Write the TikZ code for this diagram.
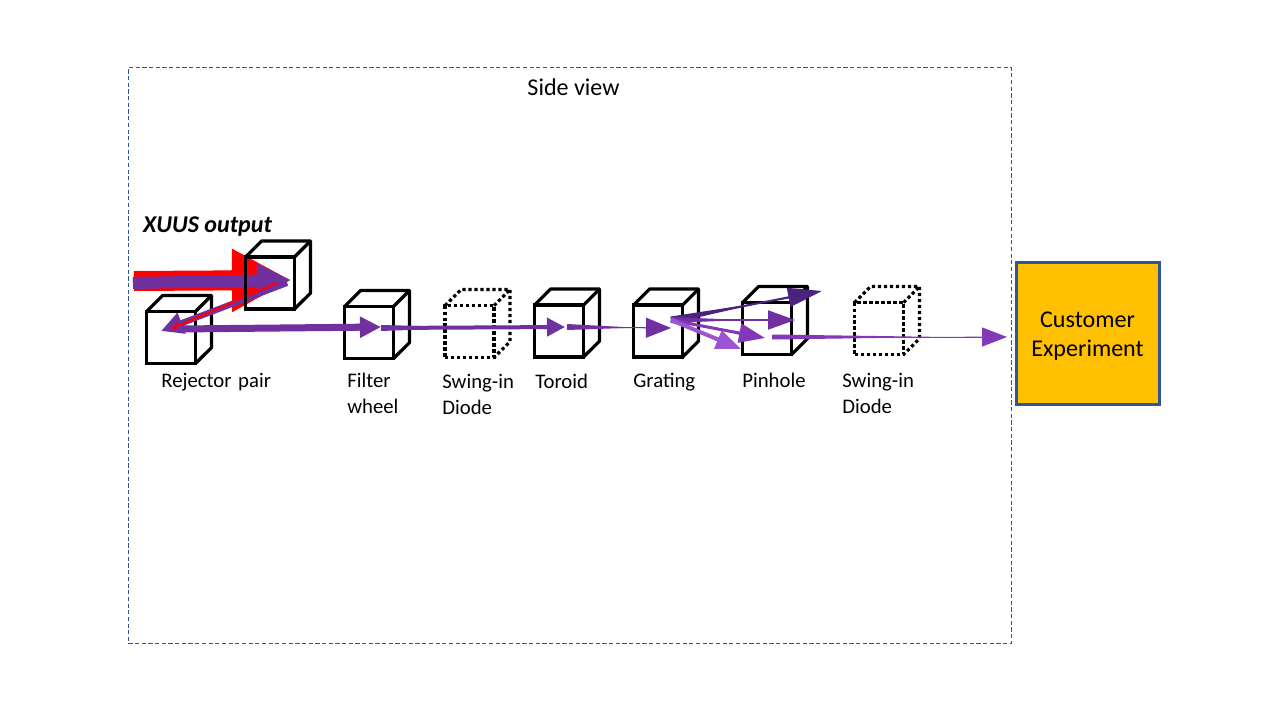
\documentclass[tikz,border=0pt]{standalone}
\usepackage{fontspec}
\setmainfont{Carlito}
\usetikzlibrary{arrows.meta,calc}
\definecolor{beamred}{RGB}{255,0,0}
\definecolor{beampurple}{RGB}{112,48,160}
\definecolor{beamdark}{RGB}{75,34,125}
\definecolor{beammid}{RGB}{131,56,184}
\definecolor{beamlight}{RGB}{155,85,211}
\definecolor{frameblue}{RGB}{47,85,151}
\definecolor{expyellow}{RGB}{255,192,0}
% cube: name, centre of front face, line style
\newcommand{\optic}[3]{
  \node[cubeface,#3] (#1) at (#2) {};
  \draw[cubeline,#3] (#1.north west) -- ++(16,-16) -- ++(49,0) -- ++(0,52) -- (#1.south east);
  \draw[cubeline,#3] (#1.north east) -- ++(16,-16);
}
% beam: from, to, colour, tail width, neck width, head length, head width (px)
\newcommand{\beam}[7]{
  \fill[#3] ($(#1)!#4*0.01cm!90:(#2)$) -- ($(#1)!#4*0.01cm!-90:(#2)$)
    -- ($(#2)!#6*0.02cm!(#1)!#5*0.01cm!90:(#2)$) -- ($(#2)!#6*0.02cm!(#1)!#5*0.01cm!-90:(#2)$) -- cycle;
  \draw[#3,line width=#5*0.02cm,-{Triangle[length=#6*0.02cm,width=#7*0.02cm]}] (#1) -- (#2);
}
\begin{document}
\begin{tikzpicture}[x=0.02cm,y=-0.02cm,
  cubeface/.style={rectangle,draw=black,line width=3.2*0.02cm,inner sep=0pt,outer sep=0pt,
    minimum width=0.98cm,minimum height=1.04cm},
  cubeline/.style={draw=black,line width=3.2*0.02cm,line join=round},
  swingin/.style={dash pattern=on 0.065cm off 0.055cm},
  lbl/.style={anchor=north west,align=left,inner sep=0pt,
    font=\fontsize{11.8}{14.8}\selectfont},
  big/.style={font=\fontsize{13.7}{16.6}\selectfont}
]
\useasboundingbox (0,0) rectangle (1280,720);
\node[draw=frameblue,line width=0.4pt,dash pattern=on 2.4pt off 1.4pt,rectangle,inner sep=0pt,
  minimum width=17.66cm,minimum height=11.52cm] (sideview) at (569.8,355.5) {};
\node[big] (viewlabel) at (573.5,87) {Side view};
\node[font=\fontsize{13.7}{16.6}\selectfont\bfseries\itshape] (xuus) at (207.5,226.5) {XUUS output};

\coordinate (redin) at (134,281);
\coordinate (bluein) at (133,283);
\coordinate (hit) at (291,280);
\coordinate (backred) at (277,283);
\coordinate (backpurple) at (287,283);
\coordinate (spotred) at (171,329);
\coordinate (spot) at (161,331);
\coordinate (spotout) at (178,329);
\coordinate (filterin) at (381,327);
\coordinate (filterout) at (381,328);
\coordinate (toroidin) at (565,327);
\coordinate (toroidout) at (567,327);
\coordinate (gratingin) at (671,328);
\coordinate (fan) at (671,320);
\coordinate (fandark) at (822,291);
\coordinate (fanmid) at (795,320);
\coordinate (fanlight) at (765,338);
\coordinate (fanlightest) at (741,349);
\coordinate (exitout) at (772,337);
\coordinate (exitin) at (1007,337);

\beam{redin}{hit}{beamred}{20}{20}{59}{59}
\beam{bluein}{hit}{beampurple}{12}{12}{34}{32}
\optic{rejectora}{171,337.5}{}
\optic{filter}{369,332.5}{}
\optic{diodea}{469.5,331.5}{swingin}
\optic{toroid}{559,331}{}
\optic{grating}{658,331}{}
\optic{pinhole}{767,328.5}{}
\optic{diodeb}{879,328.5}{swingin}

\beam{backpurple}{spot}{beampurple}{4}{6}{22}{21}
\beam{backred}{spotred}{beamred}{2}{2}{9}{8}
\optic{rejectorb}{270,283}{}
\beam{spotout}{filterin}{beampurple}{7}{7}{21}{20}
\beam{filterout}{toroidin}{beampurple}{6}{4}{18}{18}
\beam{toroidout}{gratingin}{beampurple}{6}{1}{25}{20}
\beam{fan}{fandark}{beamdark}{7}{2}{34}{19}
\beam{fan}{fanmid}{beampurple}{6}{2}{27}{19}
\beam{fan}{fanlight}{beammid}{5}{3}{26}{19}
\beam{fan}{fanlightest}{beamlight}{5}{4}{25}{19}
\beam{exitout}{exitin}{beammid}{5}{1}{25}{19}

\node[rectangle,draw=frameblue,fill=expyellow,line width=3*0.02cm,
  minimum width=2.86cm,minimum height=2.86cm,
  label={[big,align=center,yshift=-0.06cm]center:Customer\\Experiment}] (experiment) at (1087.5,333.5) {};

\node[lbl] (rejectorlabel) at (161,373) {Rejector\kern0.04cm\ pair};
\node[lbl] (filterlabel) at (347,373) {Filter\\wheel};
\node[lbl] (diodealabel) at (442,374) {Swing-in\\Diode};
\node[lbl] (toroidlabel) at (535,374) {Toroid};
\node[lbl] (gratinglabel) at (633,373) {Grating};
\node[lbl] (pinholelabel) at (742,373) {Pinhole};
\node[lbl] (diodeblabel) at (842,373) {Swing-in\\Diode};
\end{tikzpicture}
\end{document}
